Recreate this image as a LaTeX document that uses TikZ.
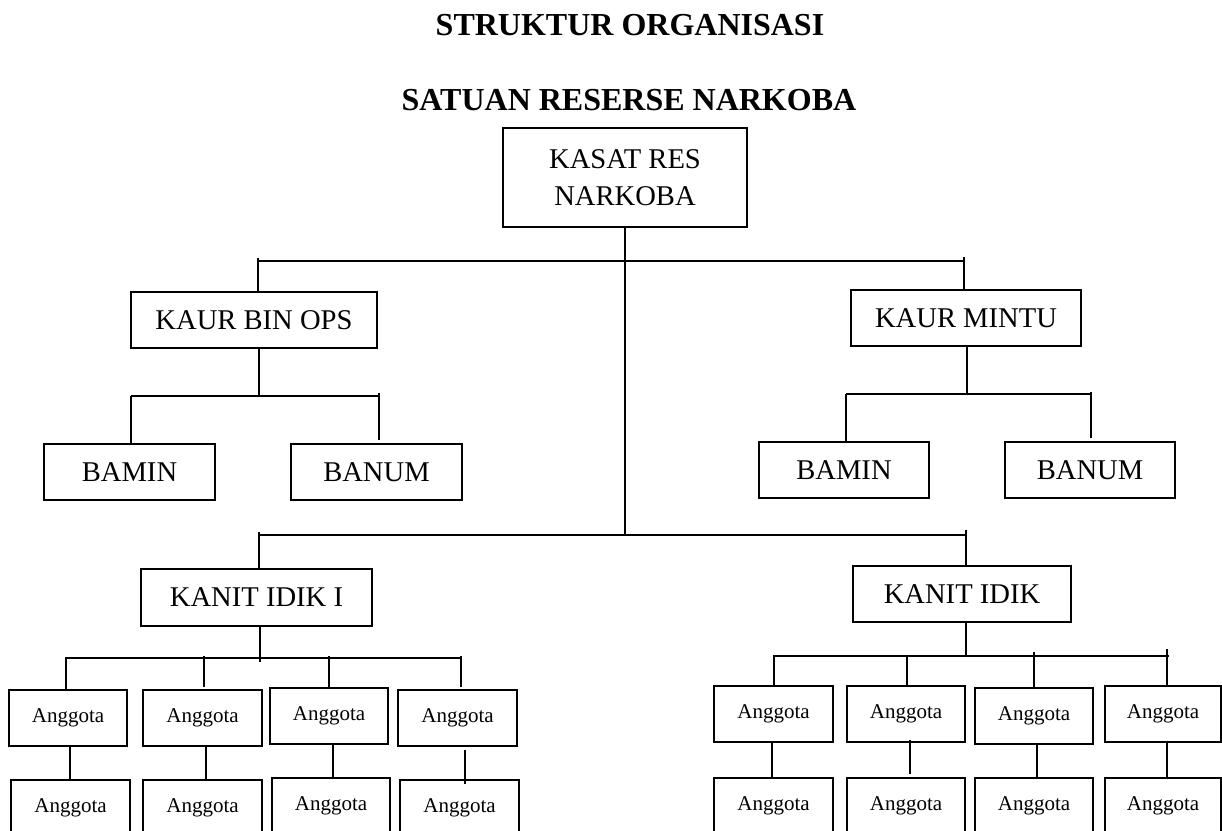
\documentclass[tikz,border=0pt]{standalone}
\usepackage{fontspec}
\setmainfont{Liberation Serif}
\begin{document}
\begin{tikzpicture}[x=1pt,y=-1pt,
  box/.style={draw=black, line width=2.2pt, inner sep=0pt, minimum height=56pt},
  big/.style={font=\fontsize{28.6pt}{37pt}\selectfont},
  small/.style={font=\fontsize{21pt}{25pt}\selectfont},
  conn/.style={draw=black, line width=2pt},
  titletext/.style={font=\bfseries\fontsize{32pt}{38pt}\selectfont, anchor=base}]
\useasboundingbox (0,0) rectangle (1222,830);
\clip (0,0) rectangle (1222,830);
% titles
\node[titletext] (t1) at (630,35) {STRUKTUR ORGANISASI};
\node[titletext] (t2) at (629,110) {SATUAN RESERSE NARKOBA};
% top
\node[box,big,minimum width=244pt,minimum height=99pt,align=center] (kasat) at (625,177.5) {KASAT RES\\NARKOBA};
% level 2
\node[box,big,minimum width=246pt] (kaurbin) at (254,320) {KAUR BIN OPS};
\node[box,big,minimum width=230pt] (kaurmintu) at (966,318) {KAUR MINTU};
\node[box,big,minimum width=171pt] (baminL) at (129.5,472) {BAMIN};
\node[box,big,minimum width=171pt] (banumL) at (376.5,472) {BANUM};
\node[box,big,minimum width=170pt] (baminR) at (844,470) {BAMIN};
\node[box,big,minimum width=170pt] (banumR) at (1090,470) {BANUM};
% kanit
\node[box,big,minimum width=231pt,minimum height=57pt] (kanitA) at (256.5,597.5) {KANIT IDIK I};
\node[box,big,minimum width=218pt] (kanitB) at (962,594) {KANIT IDIK};
% anggota left
\node[box,small,minimum width=118pt] (la1) at (68,718) {Anggota};
\node[box,small,minimum width=119pt] (la2) at (202.5,718) {Anggota};
\node[box,small,minimum width=118pt] (la3) at (329,716) {Anggota};
\node[box,small,minimum width=119pt] (la4) at (457.5,718) {Anggota};
\node[box,small,minimum width=119pt] (lb1) at (70.5,808) {Anggota};
\node[box,small,minimum width=119pt] (lb2) at (202.5,808) {Anggota};
\node[box,small,minimum width=118pt] (lb3) at (331,806) {Anggota};
\node[box,small,minimum width=119pt] (lb4) at (459.5,808) {Anggota};
% anggota right
\node[box,small,minimum width=119pt] (ra1) at (773.5,714) {Anggota};
\node[box,small,minimum width=118pt] (ra2) at (906,714) {Anggota};
\node[box,small,minimum width=118pt] (ra3) at (1034,716) {Anggota};
\node[box,small,minimum width=116pt] (ra4) at (1163,714) {Anggota};
\node[box,small,minimum width=119pt] (rb1) at (773.5,806) {Anggota};
\node[box,small,minimum width=118pt] (rb2) at (906,806) {Anggota};
\node[box,small,minimum width=118pt] (rb3) at (1034,806) {Anggota};
\node[box,small,minimum width=116pt] (rb4) at (1163,806) {Anggota};
% trunk and main buses
\coordinate (b1L) at (258,261); \coordinate (b1R) at (964,261);
\coordinate (b2L) at (259,535); \coordinate (b2R) at (966,535);
\coordinate (b2M) at (625,535);
\draw[conn] (kasat.south) -- (b2M);
\draw[conn] (b1L) -- (b1R);
\draw[conn] (b2L) -- (b2R);
\draw[conn] ([yshift=3pt]b1L) -- (b1L |- kaurbin.north);
\draw[conn] ([yshift=4pt]b1R) -- (b1R |- kaurmintu.north);
\draw[conn] ([yshift=3pt]b2L) -- (b2L |- kanitA.north);
\draw[conn] ([yshift=5pt]b2R) -- (b2R |- kanitB.north);
% under kaur bin ops
\coordinate (u1L) at (131,396); \coordinate (u1R) at (379,396); \coordinate (u1M) at (259,396);
\coordinate (u1Rend) at (379,440);
\draw[conn] (u1M |- kaurbin.south) -- (u1M);
\draw[conn] (u1L) -- (u1R);
\draw[conn] (u1L) -- (u1L |- baminL.north);
\draw[conn] ([yshift=3pt]u1R) -- (u1Rend);
% under kaur mintu
\coordinate (u2L) at (846,394); \coordinate (u2R) at (1091,394); \coordinate (u2M) at (967,394);
\coordinate (u2Rend) at (1091,438);
\draw[conn] (u2M |- kaurmintu.south) -- (u2M);
\draw[conn] (u2L) -- (u2R);
\draw[conn] (u2L) -- (u2L |- baminR.north);
\draw[conn] ([yshift=2pt]u2R) -- (u2Rend);
% under kanit idik I
\coordinate (aL) at (65,658); \coordinate (aR) at (462,658);
\coordinate (aM) at (260,662);
\draw[conn] (aM |- kanitA.south) -- (aM);
\draw[conn] (aL) -- (aR);
\coordinate (a1) at (66,658); \coordinate (a2) at (204,658); \coordinate (a3) at (329,658); \coordinate (a4) at (461,658);
\draw[conn] (a1) -- (a1 |- la1.north);
\draw[conn] ([yshift=2pt]a2) -- (a2 |- la3.north);
\draw[conn] ([yshift=2pt]a3) -- (a3 |- la3.north);
\draw[conn] ([yshift=2pt]a4) -- (a4 |- la3.north);
% under kanit idik
\coordinate (cL) at (773,656); \coordinate (cR) at (1169,656);
\coordinate (cM) at (966,656);
\draw[conn] (cM |- kanitB.south) -- (cM);
\draw[conn] (cL) -- (cR);
\coordinate (c1) at (774,656); \coordinate (c2) at (907,656); \coordinate (c3) at (1034,656); \coordinate (c4) at (1167,656);
\draw[conn] (c1) -- (c1 |- ra1.north);
\draw[conn] (c2) -- (c2 |- ra1.north);
\draw[conn] ([yshift=4pt]c3) -- (c3 |- ra3.north);
\draw[conn] ([yshift=7pt]c4) -- (c4 |- ra4.north);
% row connectors left
\coordinate (v1) at (70,746); \coordinate (v2) at (206,746); \coordinate (v3) at (333,744); \coordinate (v4) at (465,750);
\coordinate (v4end) at (465,784);
\draw[conn] (v1) -- (v1 |- lb1.north);
\draw[conn] (v2) -- (v2 |- lb2.north);
\draw[conn] (v3) -- (v3 |- lb3.north);
\draw[conn] (v4) -- (v4end);
% row connectors right
\coordinate (w1) at (772,742); \coordinate (w2) at (910,740); \coordinate (w3) at (1037,744); \coordinate (w4) at (1167,742);
\coordinate (w2end) at (910,774);
\draw[conn] (w1) -- (w1 |- rb1.north);
\draw[conn] (w2) -- (w2end);
\draw[conn] (w3) -- (w3 |- rb3.north);
\draw[conn] (w4) -- (w4 |- rb4.north);
\end{tikzpicture}
\end{document}
